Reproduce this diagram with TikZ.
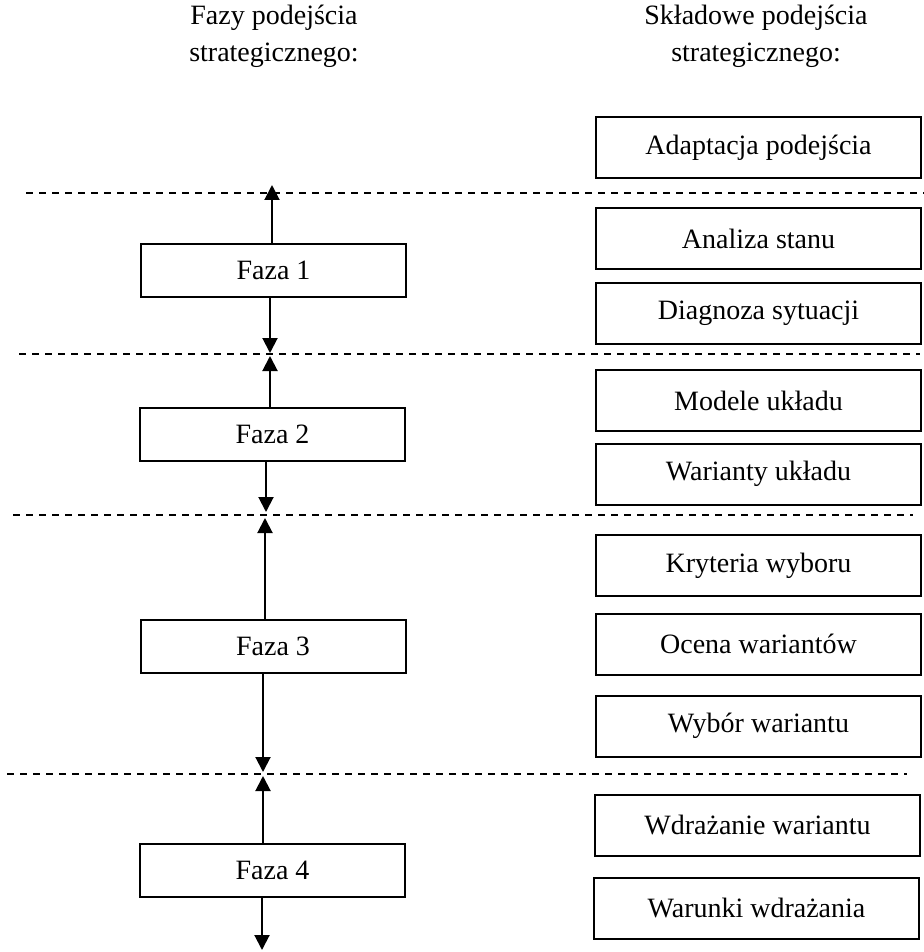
\documentclass[tikz,border=0pt]{standalone}
\usepackage{fontspec}
\setmainfont{Liberation Serif}
\usetikzlibrary{arrows.meta}
\begin{document}
\begin{tikzpicture}[x=0.5pt,y=-0.5pt,
  every node/.style={font=\fontsize{14}{18.5}\selectfont},
  fazabox/.style={draw,line width=1pt,minimum width=132.5pt,minimum height=26.5pt,inner sep=0pt},
  skladbox/.style={draw,line width=1pt,minimum width=162.5pt,minimum height=30.5pt,inner sep=0pt},
  sep/.style={line width=0.75pt,dash pattern=on 3.5pt off 3pt},
  flow/.style={line width=1pt,-{Triangle[length=7.5pt,width=7.5pt]}},
  header/.style={align=center,anchor=north,inner sep=0pt}]
\useasboundingbox (0,0) rectangle (924,952);
% headers
\node[header] (h1) at (274,5) {Fazy podejścia\\strategicznego:};
\node[header] (h2) at (756,5) {Składowe podejścia\\strategicznego:};
% right column
\node[skladbox] (s1) at (758.5,147.5) {Adaptacja podejścia};
\node[skladbox] (s2) at (758.5,238.5) {Analiza stanu};
\node[skladbox] (s3) at (758.5,313) {Diagnoza sytuacji};
\node[skladbox] (s4) at (758.5,400.5) {Modele układu};
\node[skladbox] (s5) at (758.5,474) {Warianty układu};
\node[skladbox] (s6) at (758.5,565.5) {Kryteria wyboru};
\node[skladbox] (s7) at (758.5,644) {Ocena wariantów};
\node[skladbox] (s8) at (758.5,726) {Wybór wariantu};
\node[skladbox] (s9) at (757.5,825) {Wdrażanie wariantu};
\node[skladbox] (s10) at (756.5,908) {Warunki wdrażania};
% dashed separators
\coordinate (d1a) at (26,193); \coordinate (d1b) at (924,193);
\coordinate (d2a) at (19,354); \coordinate (d2b) at (920,354);
\coordinate (d3a) at (13,515); \coordinate (d3b) at (913,515);
\coordinate (d4a) at (7,774);  \coordinate (d4b) at (907,774);
\draw[sep] (d1a) -- (d1b);
\draw[sep] (d2a) -- (d2b);
\draw[sep] (d3a) -- (d3b);
\draw[sep] (d4a) -- (d4b);
% phases
\node[fazabox] (f1) at (273.5,270.5) {Faza 1};
\node[fazabox] (f2) at (272.5,434) {Faza 2};
\node[fazabox] (f3) at (273,646.5) {Faza 3};
\node[fazabox] (f4) at (272.5,870.5) {Faza 4};
% arrow end points
\coordinate (u1) at (272,185);
\coordinate (b1) at (270,353);
\coordinate (u2) at (270,356);
\coordinate (b2) at (266,512);
\coordinate (u3) at (265,518);
\coordinate (b3) at (263,772);
\coordinate (u4) at (263,776);
\coordinate (b4) at (262,950);
\draw[flow] (f1.north -| u1) -- (u1);
\draw[flow] (f1.south -| b1) -- (b1);
\draw[flow] (f2.north -| u2) -- (u2);
\draw[flow] (f2.south -| b2) -- (b2);
\draw[flow] (f3.north -| u3) -- (u3);
\draw[flow] (f3.south -| b3) -- (b3);
\draw[flow] (f4.north -| u4) -- (u4);
\draw[flow] (f4.south -| b4) -- (b4);
\end{tikzpicture}
\end{document}
